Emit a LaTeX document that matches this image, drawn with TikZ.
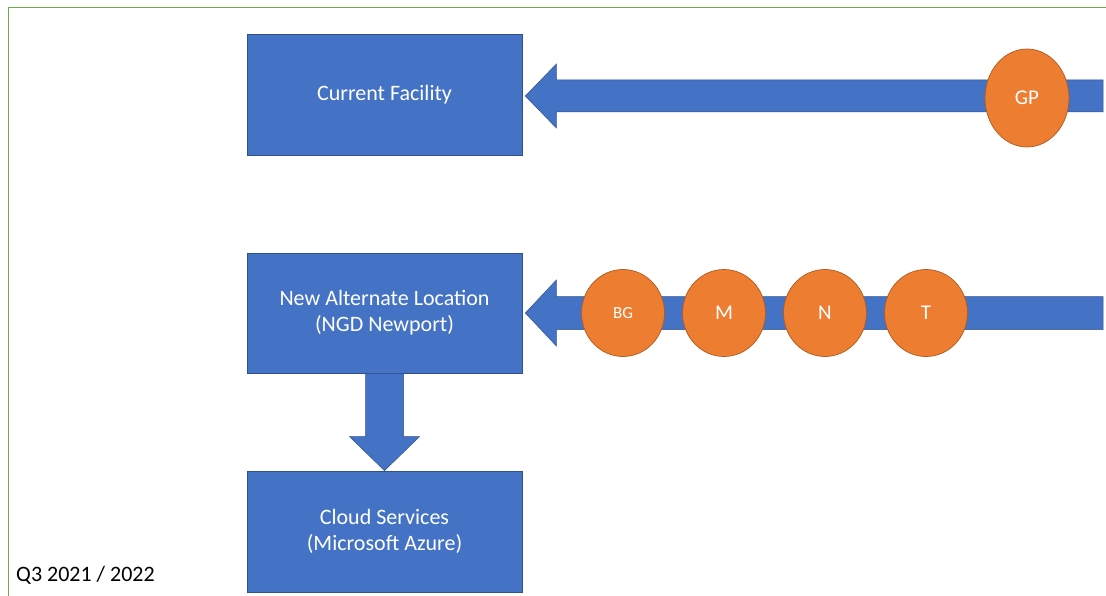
\documentclass[tikz,border=0pt]{standalone}
\usepackage{fontspec}
\setmainfont{Carlito}
\usetikzlibrary{calc,shapes.geometric}
\definecolor{oblue}{HTML}{4472C4}
\definecolor{oblueline}{HTML}{2F528F}
\definecolor{oorange}{HTML}{ED7D31}
\definecolor{oorangeline}{HTML}{AE5A21}
\definecolor{ogreen}{HTML}{70AD47}
\tikzset{
  box/.style={rectangle, fill=oblue, draw=oblueline, line width=0.7pt, minimum width=275pt, minimum height=121pt, text=white, align=center, font=\fontsize{22}{26}\selectfont},
  bigarrow/.style={fill=oblue, draw=oblueline, line width=0.5pt, line join=miter},
  dot/.style={ellipse, fill=oorange, draw=oorangeline, line width=0.7pt, minimum width=83pt, minimum height=87pt, inner sep=0pt, text=white, font=\fontsize{21}{24}\selectfont},
  frameline/.style={draw=ogreen, line width=0.9pt},
  note/.style={anchor=base west, inner sep=0pt, font=\fontsize{22}{26}\selectfont}
}
\begin{document}
\begin{tikzpicture}[x=1pt,y=-1pt]
\useasboundingbox (0,0) rectangle (1106,596);
% frame
\coordinate (fbl) at (8,597);
\coordinate (ftl) at (8,7);
\coordinate (ftr) at (1106,7);
\draw[frameline] (fbl) -- (ftl) -- (ftr);
% boxes
\node[box] (cf) at (384.5,94.5) {Current Facility};
\node[box, minimum height=120pt] (nl) at (384.5,313) {New Alternate Location\\(NGD Newport)};
\node[box] (cs) at (384.5,531.5) {Cloud Services\\(Microsoft Azure)};
% arrow ends
\coordinate (e1) at (1103,96);
\coordinate (e2) at (1103,313);
\coordinate (t1) at ($(cf.east |- e1)+(3,0)$);
\coordinate (t2) at ($(nl.east |- e2)+(3,0)$);
% arrow 1
\draw[bigarrow] (t1) -- ($(t1)+(31,-32)$) -- ($(t1)+(31,-16)$) -- ($(e1)+(0,-16)$) -- ($(e1)+(0,16)$) -- ($(t1)+(31,16)$) -- ($(t1)+(31,32)$) -- cycle;
% arrow 2
\draw[bigarrow] (t2) -- ($(t2)+(31,-33)$) -- ($(t2)+(31,-16.5)$) -- ($(e2)+(0,-16.5)$) -- ($(e2)+(0,16.5)$) -- ($(t2)+(31,16.5)$) -- ($(t2)+(31,33)$) -- cycle;
% down arrow
\draw[bigarrow] ($(nl.south)+(-19,0)$) -- ($(cs.north)+(-19,-34)$) -- ($(cs.north)+(-35,-34)$) -- (cs.north) -- ($(cs.north)+(35,-34)$) -- ($(cs.north)+(19,-34)$) -- ($(nl.south)+(19,0)$) -- cycle;
% circles
\node[dot, minimum width=84pt, minimum height=98pt] (gp) at (1027,98) {GP};
\node[dot, font=\fontsize{17}{20}\selectfont] (bg) at (623,313) {BG};
\node[dot] (m) at (724,313) {M};
\node[dot] (n) at (825,313) {N};
\node[dot] (t) at (926,313) {T};
% label
\node[note] (q3) at (16,581) {Q3 2021 / 2022};
\end{tikzpicture}
\end{document}
